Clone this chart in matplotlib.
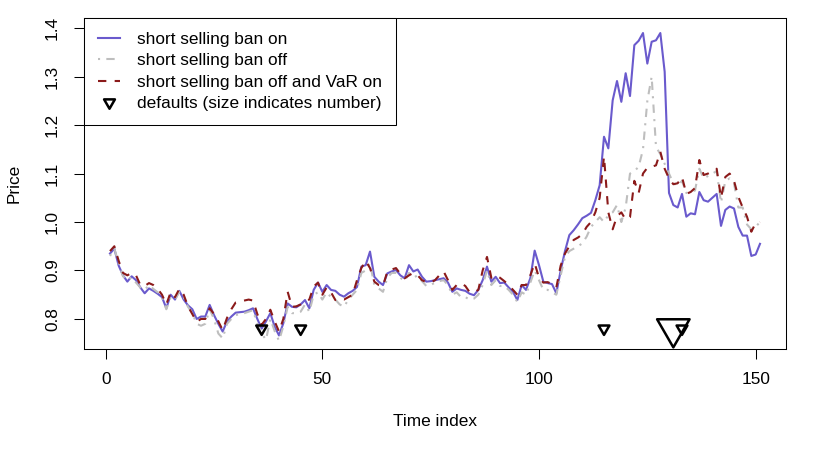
import numpy as np
import matplotlib
matplotlib.use("Agg")
import matplotlib.pyplot as plt
from matplotlib.lines import Line2D
from matplotlib.path import Path

plt.rcParams["font.family"] = ["Liberation Sans", "DejaVu Sans"]
plt.rcParams["font.size"] = 12.45

# ---- data ----
time_index = np.arange(1, 152)

price_ban_on = [
    0.935, 0.945, 0.910, 0.890, 0.877, 0.888, 0.880, 0.865, 0.853, 0.863,
    0.858, 0.852, 0.845, 0.822, 0.850, 0.840, 0.858, 0.840, 0.828, 0.820,
    0.800, 0.805, 0.805, 0.829, 0.808, 0.790, 0.774, 0.795, 0.805, 0.813,
    0.814, 0.815, 0.818, 0.822, 0.800, 0.780, 0.795, 0.812, 0.784, 0.766,
    0.791, 0.832, 0.825, 0.824, 0.830, 0.839, 0.822, 0.860, 0.875, 0.856,
    0.870, 0.860, 0.858, 0.850, 0.846, 0.853, 0.858, 0.866, 0.908, 0.911,
    0.939, 0.887, 0.877, 0.870, 0.894, 0.898, 0.901, 0.890, 0.884, 0.911,
    0.898, 0.902, 0.887, 0.877, 0.878, 0.880, 0.882, 0.884, 0.875, 0.856,
    0.863, 0.860, 0.858, 0.852, 0.849, 0.860, 0.880, 0.908, 0.877, 0.887,
    0.874, 0.875, 0.865, 0.856, 0.839, 0.870, 0.860, 0.884, 0.941, 0.911,
    0.877, 0.874, 0.872, 0.853, 0.900, 0.940, 0.973, 0.983, 0.995, 1.008,
    1.013, 1.019, 1.045, 1.076, 1.176, 1.152, 1.251, 1.291, 1.248, 1.307,
    1.260, 1.365, 1.374, 1.390, 1.327, 1.372, 1.375, 1.390, 1.310, 1.060,
    1.035, 1.030, 1.058, 1.011, 1.018, 1.016, 1.062, 1.045, 1.042, 1.050,
    1.058, 0.992, 1.025, 1.032, 1.028, 0.990, 0.972, 0.972, 0.930, 0.933,
    0.955,
]

price_ban_off = [
    0.930, 0.945, 0.915, 0.888, 0.880, 0.886, 0.875, 0.865, 0.860, 0.870,
    0.862, 0.855, 0.845, 0.820, 0.845, 0.840, 0.856, 0.845, 0.825, 0.812,
    0.790, 0.786, 0.790, 0.820, 0.800, 0.770, 0.760, 0.790, 0.800, 0.808,
    0.810, 0.812, 0.815, 0.818, 0.790, 0.770, 0.757, 0.800, 0.775, 0.755,
    0.785, 0.825, 0.812, 0.812, 0.815, 0.830, 0.815, 0.850, 0.855, 0.840,
    0.855, 0.845, 0.840, 0.830, 0.825, 0.840, 0.850, 0.860, 0.895, 0.900,
    0.915, 0.870, 0.863, 0.856, 0.885, 0.895, 0.895, 0.885, 0.878, 0.895,
    0.885, 0.890, 0.878, 0.868, 0.870, 0.875, 0.878, 0.880, 0.870, 0.850,
    0.855, 0.845, 0.845, 0.840, 0.842, 0.850, 0.870, 0.900, 0.870, 0.880,
    0.868, 0.868, 0.860, 0.850, 0.835, 0.855, 0.850, 0.875, 0.900, 0.880,
    0.860, 0.860, 0.855, 0.850, 0.890, 0.928, 0.940, 0.945, 0.950, 0.956,
    0.970, 0.990, 1.000, 1.010, 1.000, 1.014, 1.020, 1.035, 1.000, 1.030,
    1.100, 1.105, 1.114, 1.150, 1.250, 1.300, 1.155, 1.140, 1.120, 1.100,
    1.080, 1.075, 1.085, 1.060, 1.062, 1.065, 1.110, 1.090, 1.095, 1.100,
    1.105, 1.040, 1.085, 1.090, 1.080, 1.030, 1.030, 0.995, 0.985, 0.990,
    1.000,
]

price_ban_off_var_on = [
    0.940, 0.950, 0.920, 0.895, 0.890, 0.895, 0.890, 0.870, 0.868, 0.874,
    0.870, 0.862, 0.850, 0.830, 0.855, 0.845, 0.862, 0.850, 0.826, 0.810,
    0.794, 0.800, 0.800, 0.822, 0.810, 0.795, 0.777, 0.802, 0.820, 0.834,
    0.836, 0.838, 0.840, 0.838, 0.810, 0.788, 0.800, 0.819, 0.795, 0.774,
    0.800, 0.856, 0.825, 0.826, 0.830, 0.836, 0.840, 0.867, 0.875, 0.850,
    0.865, 0.855, 0.839, 0.842, 0.840, 0.845, 0.850, 0.880, 0.905, 0.920,
    0.905, 0.877, 0.870, 0.868, 0.898, 0.902, 0.905, 0.893, 0.884, 0.890,
    0.895, 0.890, 0.880, 0.876, 0.875, 0.880, 0.890, 0.898, 0.880, 0.860,
    0.870, 0.874, 0.868, 0.855, 0.855, 0.860, 0.900, 0.928, 0.885, 0.890,
    0.885, 0.878, 0.870, 0.860, 0.850, 0.870, 0.870, 0.890, 0.915, 0.885,
    0.875, 0.876, 0.872, 0.865, 0.910, 0.935, 0.950, 0.963, 0.968, 0.975,
    0.990, 1.000, 1.020, 1.050, 1.135, 1.020, 0.985, 1.012, 1.020, 1.005,
    1.010, 1.085, 1.060, 1.100, 1.112, 1.114, 1.117, 1.145, 1.110, 1.090,
    1.078, 1.080, 1.093, 1.058, 1.062, 1.070, 1.128, 1.097, 1.100, 1.105,
    1.110, 1.050, 1.093, 1.100, 1.085, 1.052, 1.030, 1.011, 0.980, 0.998,
    1.000,
]

default_times = [36, 45, 115, 131, 133]
default_counts = [1, 1, 1, 3, 1]
default_level = 0.78

# R style open down-triangle (pch = 6), centred on its centroid
tri_down = Path(
    [(0, -1), (-0.866, 0.5), (0.866, 0.5), (0, -1)],
    [Path.MOVETO, Path.LINETO, Path.LINETO, Path.CLOSEPOLY],
)

fig = plt.figure(figsize=(8.3, 4.54), dpi=100)
ax = fig.add_axes([84 / 830, 1 - 349 / 454, 702 / 830, 331 / 454])

ax.plot(time_index, price_ban_on, color="#6A5ACD", lw=1.5,
        label="short selling ban on")
ax.plot(time_index, price_ban_off, color="#BEBEBE", lw=1.5,
        dashes=(1, 3, 4, 3), label="short selling ban off")
ax.plot(time_index, price_ban_off_var_on, color="#8B1A1A", lw=1.5,
        dashes=(4, 4), label="short selling ban off and VaR on")

sizes = (9.0 * np.array(default_counts)) ** 2
ax.scatter(default_times, [default_level] * len(default_times), s=sizes,
           marker=tri_down, facecolors="none", edgecolors="black",
           linewidths=1.8, zorder=3)

ax.set_xlim(-5, 157)
ax.set_ylim(0.738, 1.421)
ax.set_xticks([0, 50, 100, 150])
yt = [0.8, 0.9, 1.0, 1.1, 1.2, 1.3, 1.4]
ax.set_yticks(yt)
ax.set_yticklabels([f"{v:.1f}" for v in yt], rotation=90, va="center")
ax.tick_params(axis="both", direction="out", length=7.2, width=0.75)
ax.tick_params(axis="x", pad=9.5)
ax.tick_params(axis="y", pad=10)
for loc in ["bottom", "top", "left", "right"]:
    ax.spines[loc].set_linewidth(0.75)

ax.set_xlabel("Time index", va="center")
ax.xaxis.set_label_coords(0.5, (349 - 421) / 331)
ax.set_ylabel("Price", va="center")
ax.yaxis.set_label_coords((14.5 - 84) / 702, 0.5)

handles, labels = ax.get_legend_handles_labels()
handles.append(Line2D([], [], ls="none", marker=tri_down, ms=9,
                      mfc="none", mec="black", mew=1.8))
labels.append("defaults (size indicates number)")
leg = ax.legend(handles, labels, loc="upper left", borderaxespad=0,
                fancybox=False, edgecolor="black", framealpha=1,
                borderpad=0.8, labelspacing=0.36, handlelength=1.3,
                handletextpad=0.95)
leg.get_frame().set_linewidth(0.75)

fig.savefig("out.png", dpi=100)
